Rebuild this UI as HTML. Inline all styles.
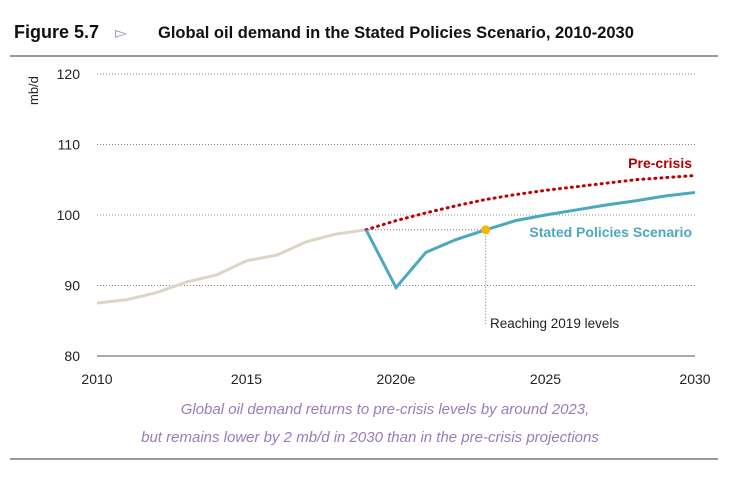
<!DOCTYPE html>
<html><head><meta charset="utf-8"><style>
body{margin:0;background:#fff;width:739px;height:491px;overflow:hidden;font-family:"Liberation Sans",sans-serif}
</style></head><body>
<svg width="739" height="491" xmlns="http://www.w3.org/2000/svg">
<text x="14" y="38" font-size="18" font-weight="bold" fill="#111">Figure 5.7</text>
<text x="115" y="38" font-size="16" fill="#a98fc4">▻</text>
<text x="158" y="38" font-size="16.5" font-weight="bold" fill="#111">Global oil demand in the Stated Policies Scenario, 2010-2030</text>
<rect x="10" y="55" width="708" height="2" fill="#999"/>
<rect x="10" y="458" width="708" height="2" fill="#999"/>
<text transform="translate(38,105) rotate(-90)" font-size="13" fill="#222">mb/d</text>
<g id="grid"></g><g id="series"></g>
<text x="385" y="414" text-anchor="middle" font-size="15" font-style="italic" fill="#9a7bbd">Global oil demand returns to pre-crisis levels by around 2023,</text>
<text x="370" y="442" text-anchor="middle" font-size="15" font-style="italic" fill="#9a7bbd">but remains lower by 2 mb/d in 2030 than in the pre-crisis projections</text>
</svg>
<script>
const yTicks=[80,90,100,110,120];
const xTickYears=[2010,2015,2020,2025,2030];
const xTickLabels=["2010","2015","2020e","2025","2030"];
const histYears=[2010,2011,2012,2013,2014,2015,2016,2017,2018,2019];
const histValues=[87.5,88.0,89.0,90.5,91.5,93.5,94.3,96.2,97.3,97.9];
const spsYears=[2019,2020,2021,2022,2023,2024,2025,2026,2027,2028,2029,2030];
const spsValues=[97.9,89.7,94.7,96.5,97.9,99.2,100.0,100.7,101.4,102.0,102.7,103.2];
const preValues=[97.9,99.2,100.3,101.3,102.2,102.9,103.5,104.0,104.5,105.0,105.3,105.6];
const ref2019=97.9, reachYear=2023;
const NS="http://www.w3.org/2000/svg";
const X=y=>97+(y-2010)*(598/20);
const Y=v=>356-(v-80)*(282/40);
function mk(t,a,p){const e=document.createElementNS(NS,t);for(const k in a)e.setAttribute(k,a[k]);p.appendChild(e);return e;}
const g=document.getElementById('grid'),s=document.getElementById('series');
yTicks.forEach(v=>{
 let l=mk('line',{x1:97,x2:695,y1:Y(v),y2:Y(v),stroke:v===80?'#555':'#888','stroke-width':1,'stroke-dasharray':v===80?'':'1,2'},g);
 
 
 let t=mk('text',{x:80,y:Y(v)+5,'text-anchor':'end','font-size':14,fill:'#222'},g);t.textContent=v;
 
 
});
xTickYears.forEach((yr,i)=>{
 let t=mk('text',{x:X(yr),y:384,'text-anchor':'middle','font-size':14,fill:'#222'},g);t.textContent=xTickLabels[i];
 
 
});
const pts=(ys,vs)=>ys.map((y,i)=>X(y)+','+Y(vs[i])).join(' ');
let r=mk('line',{x1:X(2019),x2:X(reachYear),y1:Y(ref2019),y2:Y(ref2019),stroke:'#777','stroke-dasharray':'1,2'},s);


let r2=mk('line',{x1:X(reachYear),x2:X(reachYear),y1:Y(ref2019),y2:324,stroke:'#777','stroke-dasharray':'1,2'},s);


let h=mk('polyline',{points:pts(histYears,histValues),fill:'none',stroke:'#ddd5c4','stroke-width':3},s);


let p=mk('polyline',{points:pts(spsYears,preValues),fill:'none',stroke:'#c00000','stroke-width':3,'stroke-dasharray':'1,5','stroke-linecap':'round'},s);


let sp=mk('polyline',{points:pts(spsYears,spsValues),fill:'none',stroke:'#4aa8c0','stroke-width':3},s);


let d=mk('circle',{cx:X(reachYear),cy:Y(ref2019),r:4.5,fill:'#f5b800'},s);


let l1=mk('text',{x:692,y:168,'text-anchor':'end','font-size':14,'font-weight':'bold',fill:'#b00000'},s);l1.textContent='Pre-crisis';


let l2=mk('text',{x:692,y:237,'text-anchor':'end','font-size':14,'font-weight':'bold',fill:'#4aa8c0'},s);l2.textContent='Stated Policies Scenario';


let l3=mk('text',{x:490,y:328,'font-size':13.5,fill:'#222'},s);l3.textContent='Reaching 2019 levels';


</script>
</body></html>
